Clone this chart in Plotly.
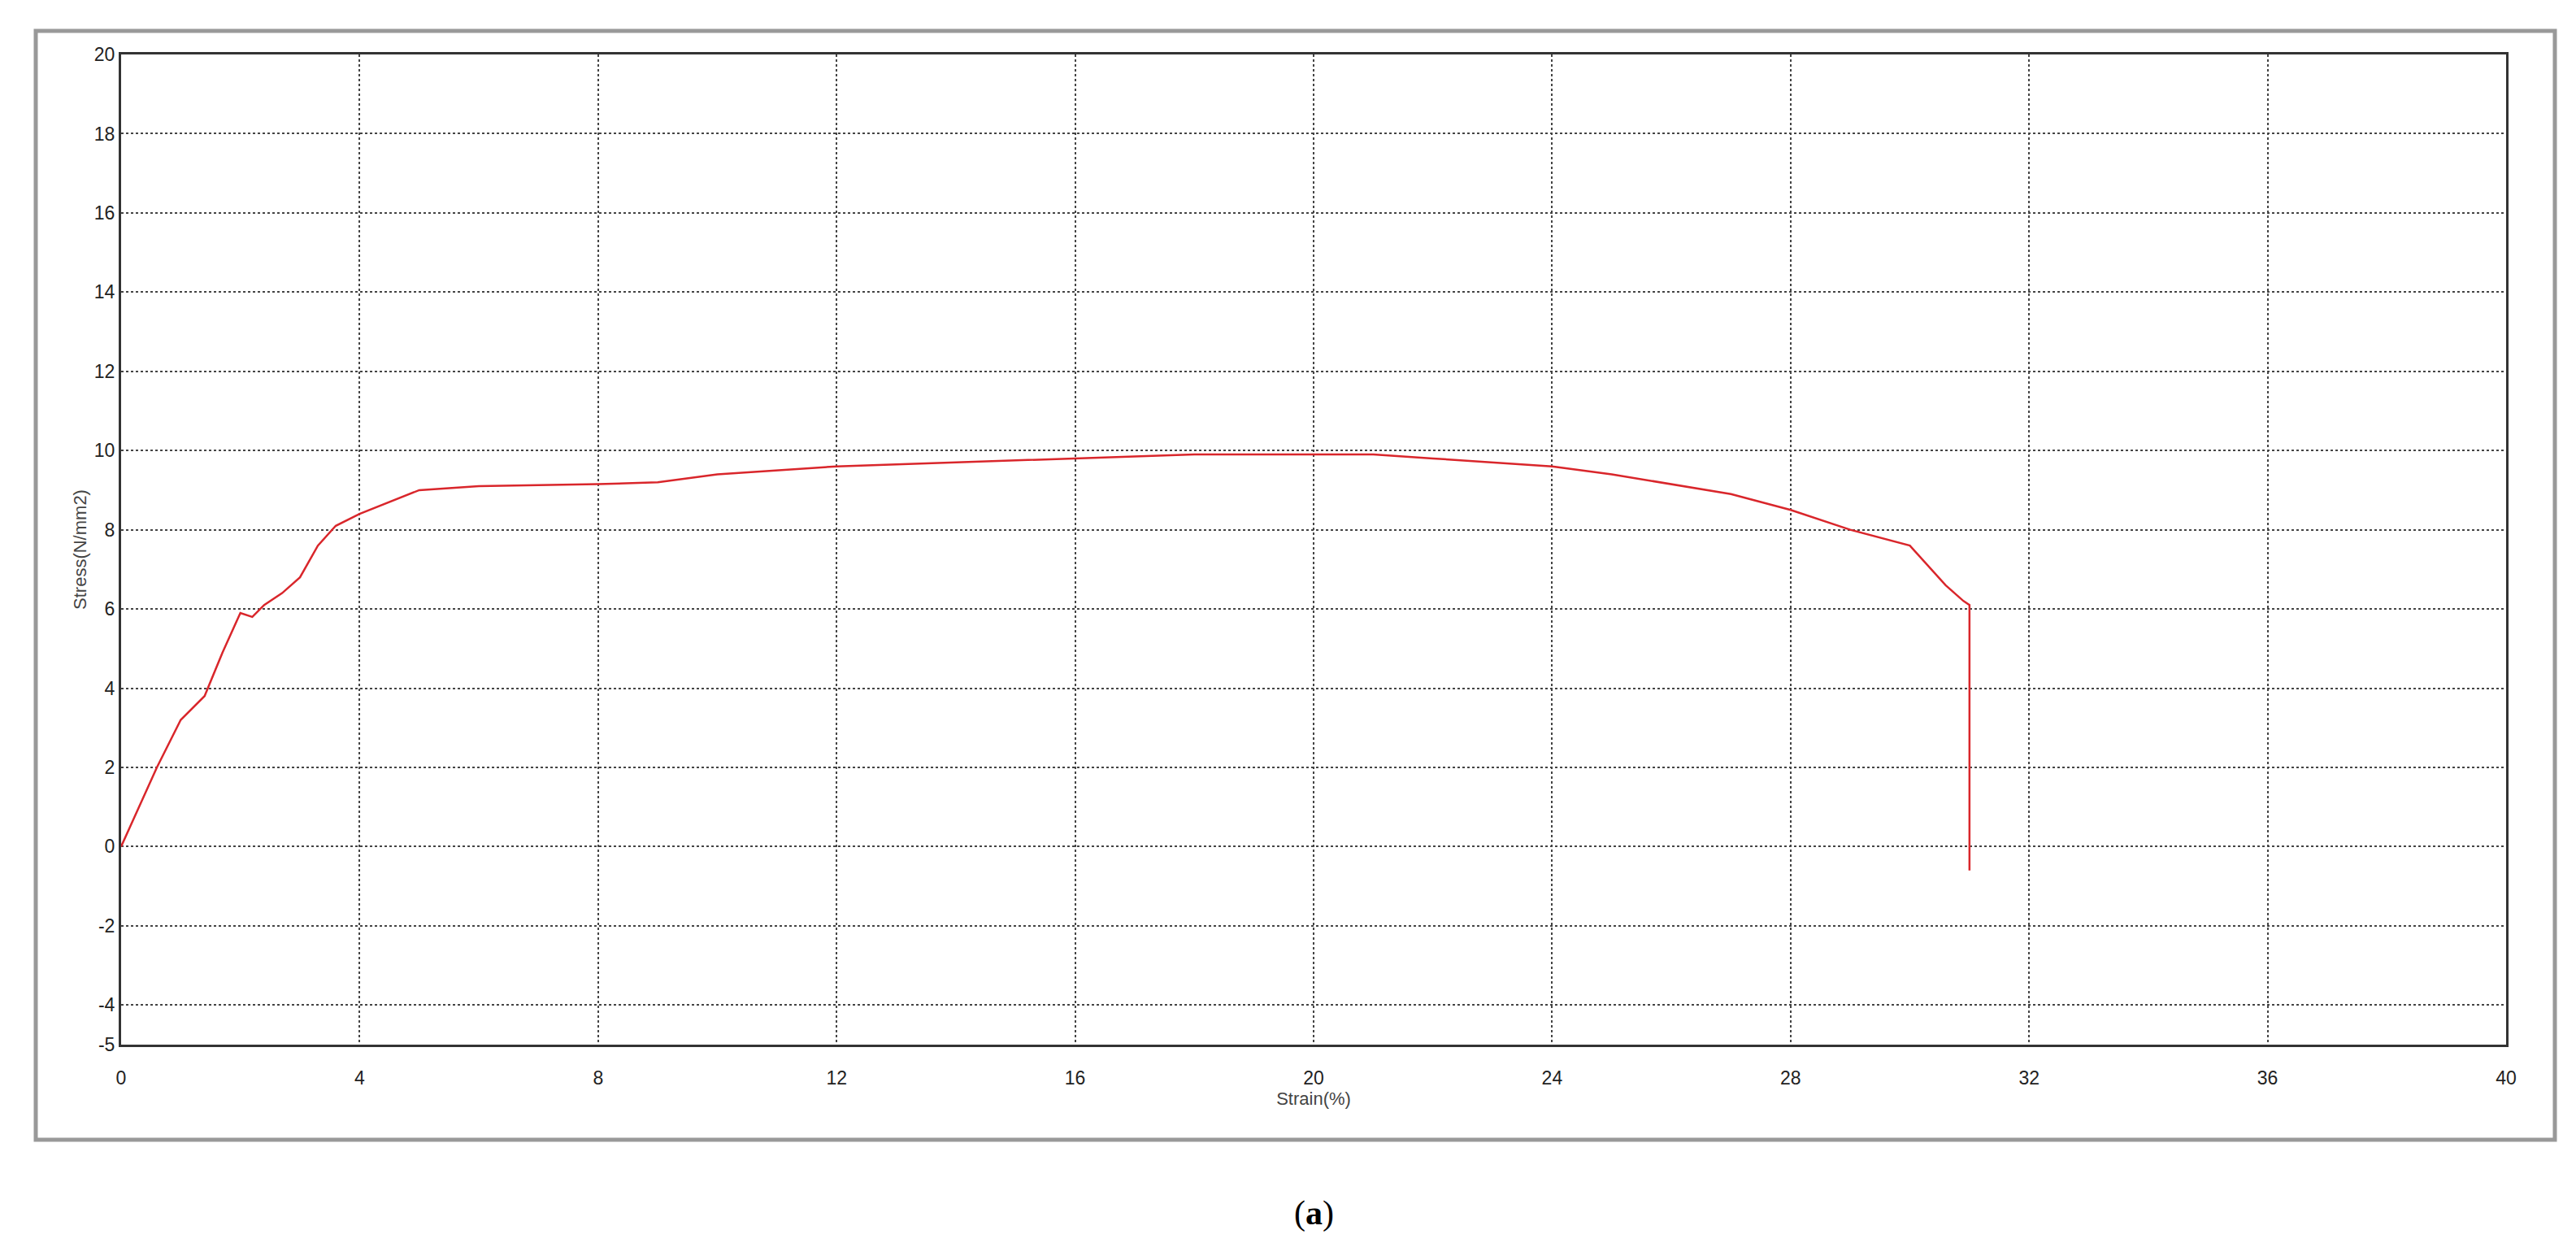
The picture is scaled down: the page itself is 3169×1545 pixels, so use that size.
import plotly.graph_objects as go

# stress-strain curve
strain = [0, 0.3, 0.6, 1.0, 1.4, 1.7, 2.0, 2.2, 2.4, 2.7, 3.0, 3.3, 3.6, 4.0, 4.5, 5.0, 6.0, 8.0,
          9.0, 10.0, 12.0, 14.0, 16.0, 18.0, 20.0, 21.0, 22.0, 24.0, 25.0, 27.0, 28.0, 29.0,
          30.0, 30.3, 30.6, 30.9, 31.0, 31.0]
stress = [0, 1.0, 2.0, 3.2, 3.8, 4.9, 5.9, 5.8, 6.1, 6.4, 6.8, 7.6, 8.1, 8.4, 8.7, 9.0, 9.1, 9.15,
          9.2, 9.4, 9.6, 9.7, 9.8, 9.9, 9.9, 9.9, 9.8, 9.6, 9.4, 8.9, 8.5, 8.0,
          7.6, 7.1, 6.6, 6.2, 6.1, -0.6]
x_ticks = list(range(0, 41, 4))
y_ticks = [-5, -4, -2, 0, 2, 4, 6, 8, 10, 12, 14, 16, 18, 20]
y_labels = ["-5", "-4", "-2", "0", "2", "4", "6", "8", "10", "12", "14", "16", "18", "20"]

W, H = 3169, 1545
fig = go.Figure()
fig.add_trace(go.Scatter(x=strain, y=stress, mode="lines",
                         line=dict(color="#d9262b", width=2.5), showlegend=False))

axis_font = dict(family="Liberation Sans, Arial", size=23, color="#222")
fig.update_xaxes(range=[0, 40], tickvals=x_ticks, showgrid=True, gridcolor="#444",
                 griddash="dot", gridwidth=1.5, showline=True, linecolor="#333",
                 linewidth=3, mirror=True, zeroline=False, tickfont=axis_font,
                 ticks="", ticklabelstandoff=18,
                 title=dict(text="Strain(%)", font=dict(family="Liberation Sans, Arial", size=22, color="#444"),
                            standoff=6))
fig.update_yaxes(range=[-5, 20], tickvals=y_ticks, ticktext=y_labels, showgrid=True, gridcolor="#444",
                 griddash="dot", gridwidth=1.5, showline=True, linecolor="#333",
                 linewidth=3, mirror=True, zeroline=False, tickfont=axis_font, ticks="",
                 title=dict(text="Stress(N/mm2)", font=dict(family="Liberation Sans, Arial", size=22, color="#444"),
                            standoff=4))

# outer window frame
fig.add_shape(type="rect", xref="paper", yref="paper",
              x0=(36 - 141) / (3075 - 141), x1=(3135 - 141) / (3075 - 141),
              y0=-(1394 - 1277) / (1277 - 59), y1=1 + (59 - 30) / (1277 - 59),
              line=dict(color="#999", width=5))
fig.add_annotation(text="(<b>a</b>)", xref="paper", yref="paper", x=0.5,
                   y=-(1510 - 1277) / (1277 - 59), showarrow=False,
                   font=dict(family="Liberation Serif, Times New Roman", size=42, color="black"))

fig.update_layout(width=W, height=H, paper_bgcolor="white", plot_bgcolor="white",
                  margin=dict(l=141, r=W - 3075, t=59, b=H - 1277))
fig.write_html("out.html")
